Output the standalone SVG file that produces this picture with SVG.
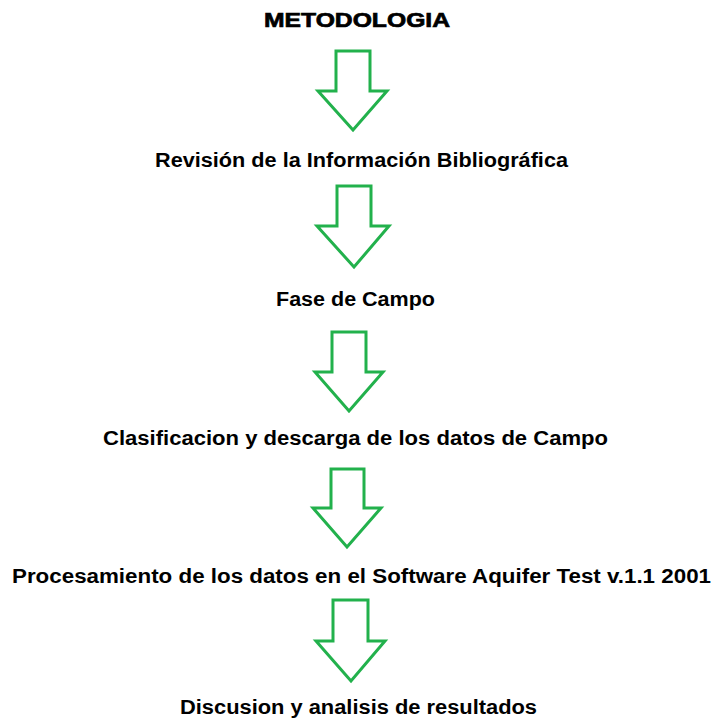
<svg xmlns="http://www.w3.org/2000/svg" width="712" height="719" viewBox="0 0 712 719">
<style>
.t{font-family:"Liberation Sans",Arial,sans-serif;font-weight:bold;font-size:20px;fill:#000;}
.h{font-family:"Liberation Sans",Arial,sans-serif;font-weight:bold;font-size:21px;fill:#000;stroke:#000;stroke-width:0.7;}
.a{fill:#fff;stroke:#22b14c;stroke-width:3;stroke-linejoin:miter;}
</style>
<rect width="712" height="719" fill="#fff"/>
<g id="title"><text class="h" x="264" y="27" textLength="186" lengthAdjust="spacingAndGlyphs">METODOLOGIA</text></g>
<g id="connectors">
<polygon class="a" points="336,51 370,51 370,91 387,91 353,130 318,91 336,91"/>
<polygon class="a" points="337,186 371,186 371,226 389,226 354,267 317,226 337,226"/>
<polygon class="a" points="332,332 366,332 366,372 383,372 349,411 315,372 332,372"/>
<polygon class="a" points="331,469 364,469 364,508 381,508 347,547 313,508 331,508"/>
<polygon class="a" points="333,600 368,600 368,641 385,641 351,681 316,641 333,641"/>
</g>
<g id="n1"><text class="t" x="155" y="167" textLength="413" lengthAdjust="spacingAndGlyphs">Revisión de la Información Bibliográfica</text></g>
<g id="n2"><text class="t" x="276" y="306" textLength="159" lengthAdjust="spacingAndGlyphs">Fase de Campo</text></g>
<g id="n3"><text class="t" x="103" y="445" textLength="505" lengthAdjust="spacingAndGlyphs">Clasificacion y descarga de los datos de Campo</text></g>
<g id="n4"><text class="t" x="12" y="583" textLength="699" lengthAdjust="spacingAndGlyphs">Procesamiento de los datos en el Software Aquifer Test v.1.1 2001</text></g>
<g id="n5"><text class="t" x="180" y="714" textLength="357" lengthAdjust="spacingAndGlyphs">Discusion y analisis de resultados</text></g>
</svg>
